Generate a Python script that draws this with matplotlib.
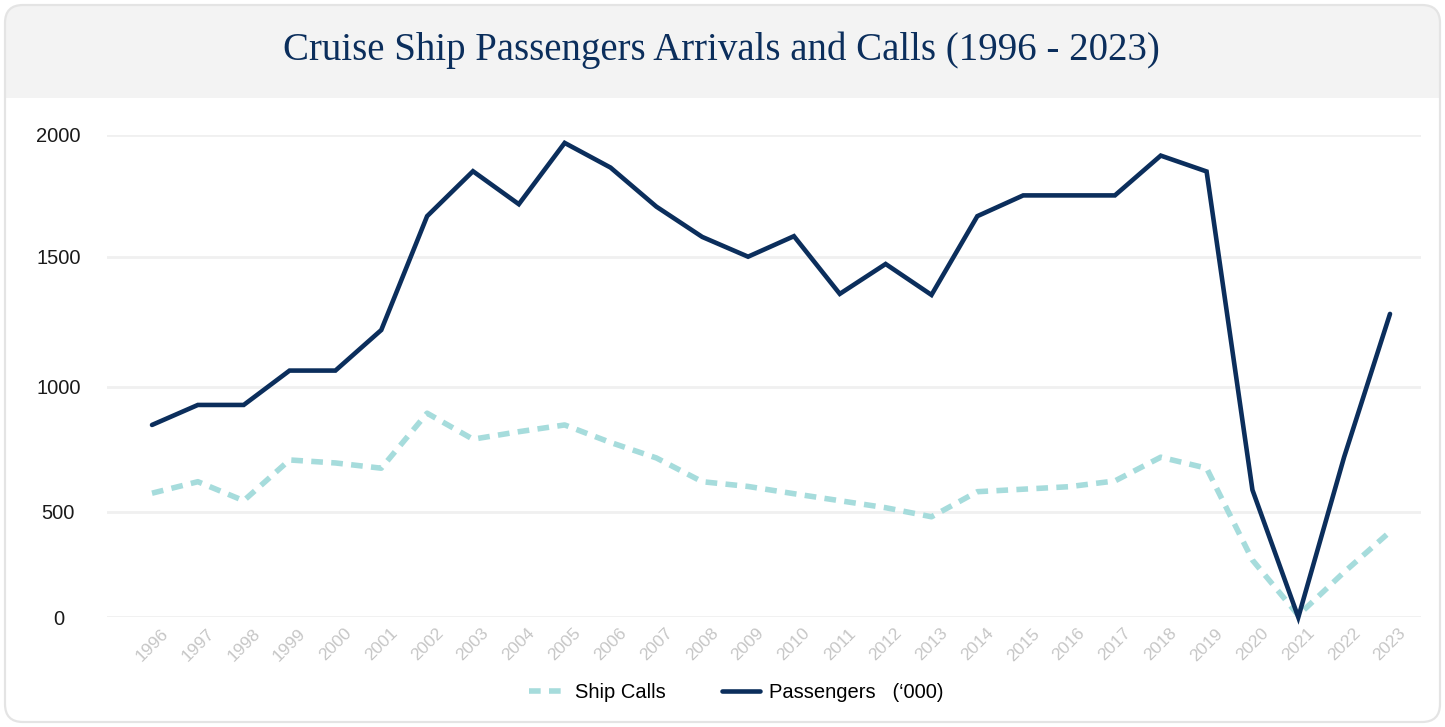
import numpy as np
import matplotlib
matplotlib.use('Agg')
import matplotlib.pyplot as plt
from matplotlib.patches import FancyBboxPatch, Rectangle
from matplotlib.transforms import IdentityTransform
from matplotlib.ticker import NullLocator

#
#--- chart data: ship calls and passenger arrivals ('000) per year
#
years      = list(range(1996, 2024))
passengers = [847, 927, 927, 1062, 1062, 1218, 1666, 1850, 1715, 1966,
              1865, 1705, 1581, 1500, 1584, 1357, 1472, 1353, 1666, 1751,
              1751, 1751, 1914, 1849, 587, 0, 719, 1280]
ship_calls = [574, 620, 544, 707, 695, 674, 894, 790, 820, 847,
              777, 715, 620, 601, 572, 544, 516, 476, 580, 590,
              600, 623, 718, 674, 271, 10, 214, 405]
y_ticks    = [0, 500, 1000, 1500, 2000]

title      = 'Cruise Ship Passengers Arrivals and Calls (1996 - 2023)'
navy       = '#0b2e5c'
teal       = '#a6dcdc'

W, H = 1445, 727

plt.rcParams['font.family'] = ['Liberation Sans', 'DejaVu Sans']

#
#--- uneven grid spacing on the value axis (piecewise linear scale)
#
grid_vals = [0, 500, 1000, 1500, 2000]
grid_pos  = [0, 105.6, 230.6, 360.6, 482.7]

def fwd(v):
    return np.interp(v, grid_vals, grid_pos)

def inv(p):
    return np.interp(p, grid_pos, grid_vals)

fig = plt.figure(figsize=(W / 100, H / 100), dpi=100)
fig.patch.set_facecolor('white')

#
#--- card background with grey header band
#
ident = IdentityTransform()
card = FancyBboxPatch((5, H - 722), 1435, 717, boxstyle='round,pad=0,rounding_size=18',
                      fc='white', ec='none', transform=ident, zorder=-5)
head = FancyBboxPatch((5, H - 118), 1435, 113, boxstyle='round,pad=0,rounding_size=18',
                      fc='#f3f3f3', ec='none', transform=ident, zorder=-4)
cover = Rectangle((5, H - 118), 1435, 20, fc='white', ec='none', transform=ident, zorder=-3)
edge = FancyBboxPatch((5, H - 722), 1435, 717, boxstyle='round,pad=0,rounding_size=18',
                      fc='none', ec='#e4e4e4', lw=1.6, transform=ident, zorder=-2)
for p in (card, head, cover, edge):
    fig.add_artist(p)

fig.text(721 / W, 1 - 50 / H, title, ha='center', va='center', color=navy,
         fontsize=28, family='Liberation Serif')

#
#--- plotting area
#
ax = fig.add_axes([107 / W, 1 - 617.3 / H, (1421 - 107) / W, (617.3 - 134.6) / H])
ax.set_facecolor('none')
ax.set_yscale('function', functions=(fwd, inv))
ax.set_ylim(0, 2000)
ax.set_yticks(y_ticks)
ax.yaxis.set_minor_locator(NullLocator())
ax.set_yticklabels([str(v) for v in y_ticks])

step = 45.85
ax.set_xlim(years[0] - 45 / step, years[-1] + 31 / step)
ax.set_xticks(years)
ax.set_xticklabels([str(y) for y in years], rotation=45, ha='center',
                   color='#c6c6c6', fontsize=12.5)

ax.tick_params(axis='x', length=0, pad=6)
ax.tick_params(axis='y', length=0, pad=35, labelsize=14.5, labelcolor='#1a1a1a')
for lbl in ax.get_yticklabels():
    lbl.set_horizontalalignment('center')

ax.grid(axis='y', color='#f0f0f0', lw=2)
ax.grid(axis='x', visible=False)
for s in ax.spines.values():
    s.set_visible(False)

#
#--- the two series
#
ax.plot(years, ship_calls, color=teal, lw=4.0, ls=(0, (2.1, 1.5)),
        dash_capstyle='butt', clip_on=False, label='Ship Calls', zorder=2)
ax.plot(years, passengers, color=navy, lw=3.3, solid_joinstyle='miter',
        solid_capstyle='round', clip_on=False,
        label='Passengers   (\u2018000)', zorder=3)

fig.legend(loc='center', bbox_to_anchor=(736 / W, 1 - 693 / H), ncol=2,
           frameon=False, fontsize=14.5, handlelength=1.85, handletextpad=0.45,
           columnspacing=2.8)

plt.savefig('out.png', dpi=100)
